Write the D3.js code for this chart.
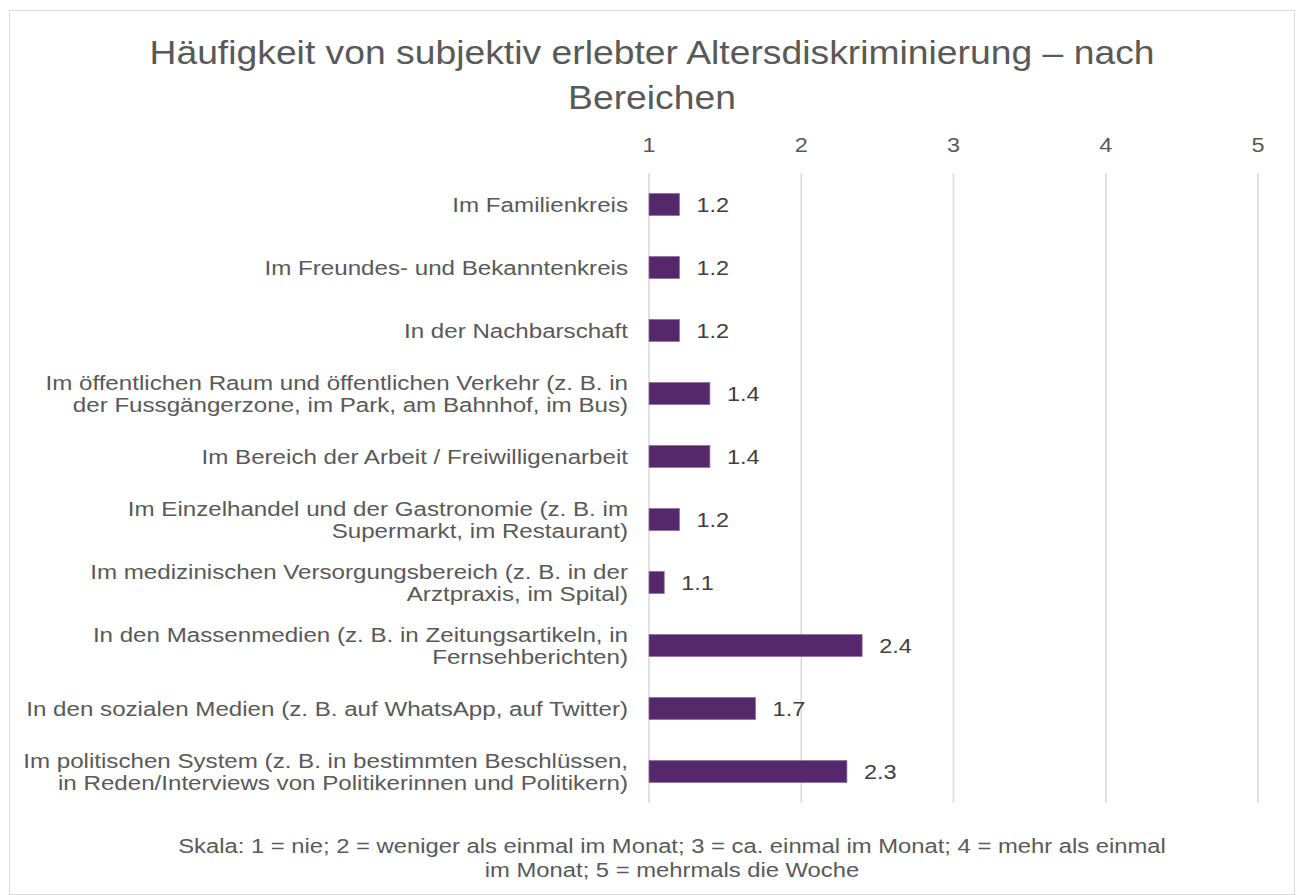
<!DOCTYPE html>
<html>
<head>
<meta charset="utf-8">
<script src="https://cdn.jsdelivr.net/npm/d3@7"></script>
<style>
    body { margin: 0; background: #fff; }
    svg text { font-family: "Liberation Sans", Arial, sans-serif; }
</style>
</head>
<body>
<div id="chart"></div>
<script>
// Chart data
const titleLines = ['Häufigkeit von subjektiv erlebter Altersdiskriminierung – nach', 'Bereichen'];
const categories = [
    ['Im Familienkreis'],
    ['Im Freundes- und Bekanntenkreis'],
    ['In der Nachbarschaft'],
    ['Im öffentlichen Raum und öffentlichen Verkehr (z. B. in', 'der Fussgängerzone, im Park, am Bahnhof, im Bus)'],
    ['Im Bereich der Arbeit / Freiwilligenarbeit'],
    ['Im Einzelhandel und der Gastronomie (z. B. im', 'Supermarkt, im Restaurant)'],
    ['Im medizinischen Versorgungsbereich (z. B. in der', 'Arztpraxis, im Spital)'],
    ['In den Massenmedien (z. B. in Zeitungsartikeln, in', 'Fernsehberichten)'],
    ['In den sozialen Medien (z. B. auf WhatsApp, auf Twitter)'],
    ['Im politischen System (z. B. in bestimmten Beschlüssen,', 'in Reden/Interviews von Politikerinnen und Politikern)']
];
const values = [1.2, 1.2, 1.2, 1.4, 1.4, 1.2, 1.1, 2.4, 1.7, 2.3];
const ticks = [1, 2, 3, 4, 5];
const noteLines = [
    'Skala: 1 = nie; 2 = weniger als einmal im Monat; 3 = ca. einmal im Monat; 4 = mehr als einmal',
    'im Monat; 5 = mehrmals die Woche'
];

const W = 1300, H = 895;

const svg = d3.select('#chart').append('svg')
    .attr('width', W)
    .attr('height', H);

svg.append('rect')
    .attr('x', 9.5).attr('y', 10.5)
    .attr('width', 1285).attr('height', 884)
    .attr('fill', '#fff')
    .attr('stroke', '#d9d9d9');

// text helper; glyphs in the reference are wider than tall, so stretch around the anchor
function label(x, y, str, size, sx, color, anchor) {
    return svg.append('text')
        .attr('transform', `translate(${x},${y}) scale(${sx},1)`)
        .attr('text-anchor', anchor || 'middle')
        .style('font-size', size + 'px')
        .style('fill', color)
        .text(str);
}

const x = d3.scaleLinear().domain([1, 5]).range([649, 1258]);
const y = d3.scaleBand()
    .domain(d3.range(categories.length))
    .range([173, 803])
    .paddingInner(0.65)
    .paddingOuter(0.325);

// Title
titleLines.forEach((t, i) => label(652, 64 + i * 45, t, 33, 1.13, '#595959'));

// Gridlines
svg.append('g')
    .selectAll('line')
    .data(ticks)
    .enter().append('line')
    .attr('x1', d => x(d)).attr('x2', d => x(d))
    .attr('y1', 173).attr('y2', 803)
    .attr('stroke', '#d9d9d9')
    .attr('stroke-width', 1.5);

// Top axis labels
ticks.forEach(t => label(x(t), 152, t, 21, 1.12, '#595959'));

// Bars
svg.append('g')
    .selectAll('rect')
    .data(values)
    .enter().append('rect')
    .attr('x', x(1))
    .attr('y', (d, i) => y(i))
    .attr('width', d => x(d) - x(1))
    .attr('height', y.bandwidth())
    .attr('fill', '#55276b')
    .attr('stroke', '#8f70a4')
    .attr('stroke-width', 0.75);

// Value labels
values.forEach((v, i) => {
    label(x(v) + 17, y(i) + y.bandwidth() / 2 + 7.5, v.toFixed(1), 21, 1.12, '#404040', 'start');
});

// Category labels
categories.forEach((lines, i) => {
    const cy = y(i) + y.bandwidth() / 2;
    const top = cy - (lines.length - 1) * 11;
    lines.forEach((ln, j) => label(628, top + j * 22 + 7.5, ln, 21, 1.15, '#595959', 'end'));
});

// Footnote
noteLines.forEach((t, i) => label(672, 853 + i * 24, t, 20, 1.19, '#595959'));
</script>
</body>
</html>
